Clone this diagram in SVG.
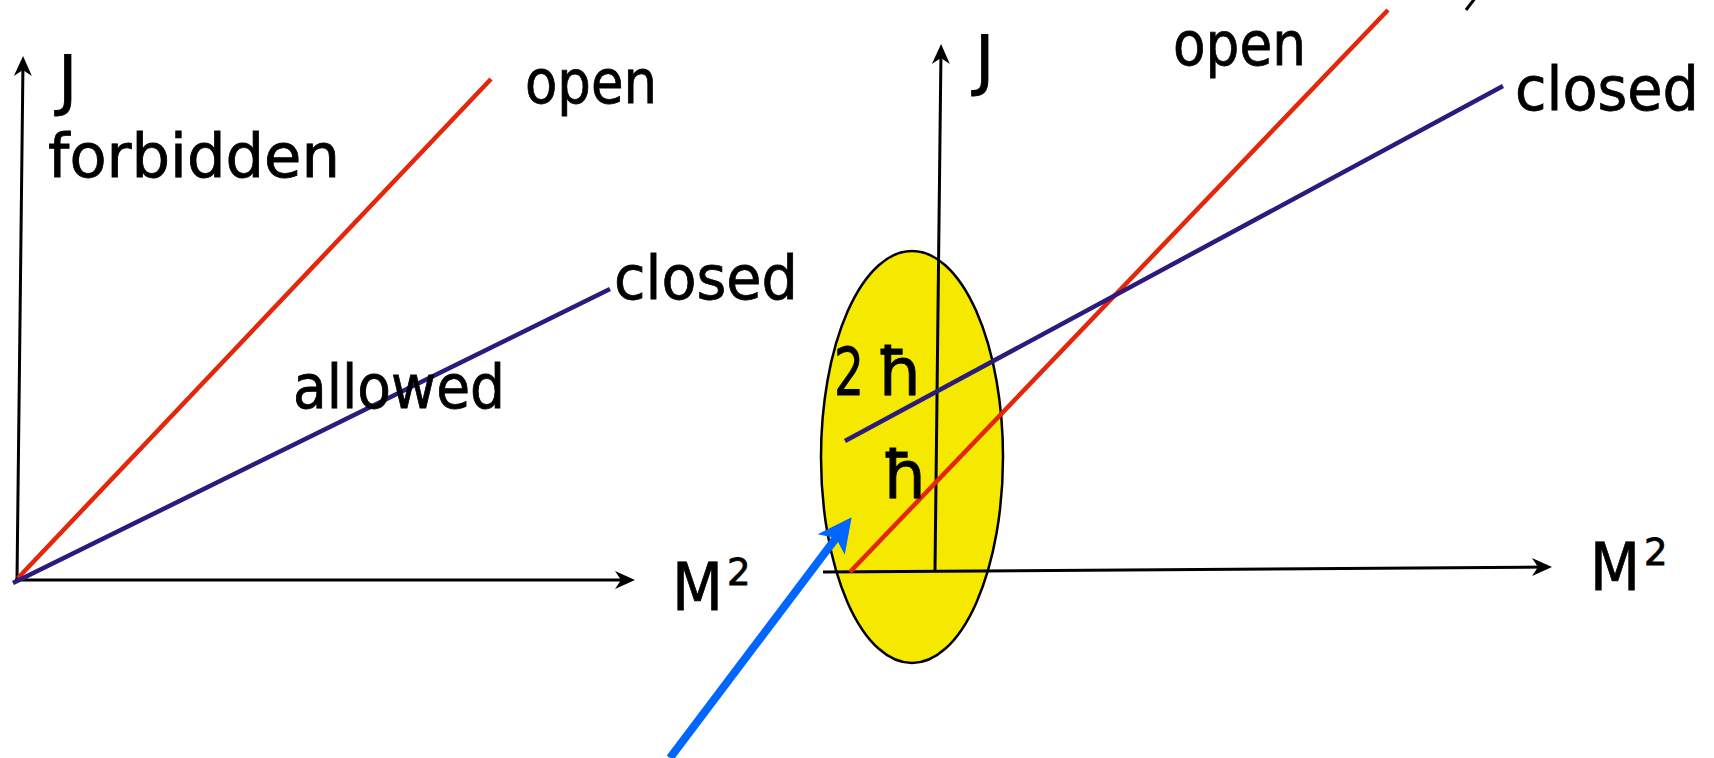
<svg xmlns="http://www.w3.org/2000/svg" width="1714" height="758" viewBox="0 0 1714 758">
<style>
text{font-family:'DejaVu Sans',sans-serif;fill:#000;stroke:#000;stroke-width:0.8}
.lbl{font-size:60px}
.big{font-size:66px}
.sup{font-size:37px}
.axis{stroke:#000;stroke-width:3;fill:none}
.red{stroke:#e4260b;stroke-width:4.5;fill:none}
.pur{stroke:#2c1a7c;stroke-width:4.5;fill:none}
</style>
<defs>
<marker id="ah" markerUnits="userSpaceOnUse" markerWidth="22" markerHeight="22" viewBox="0 0 22 22" refX="16" refY="11" orient="auto">
<path d="M22,11 L2,2 L8,11 L2,20 Z" fill="#000"/>
</marker>
<marker id="bh" markerUnits="userSpaceOnUse" markerWidth="40" markerHeight="36" viewBox="0 0 40 36" refX="10" refY="18" orient="auto">
<path d="M36,18 L2,1 L10,18 L2,35 Z" fill="#0066ff"/>
</marker>
</defs>
<g id="ellipse">
<ellipse cx="912" cy="457" rx="91" ry="206" fill="#f5e900" stroke="#000" stroke-width="2.5"/>
</g>
<g id="connectors">
<line class="axis" x1="17" y1="580" x2="23" y2="62" marker-end="url(#ah)"/>
<line class="axis" x1="15" y1="580" x2="629" y2="580" marker-end="url(#ah)"/>
<line class="red" x1="18" y1="578" x2="491" y2="79"/>
<line class="pur" x1="13" y1="583" x2="610" y2="289"/>
<line class="axis" x1="935" y1="570" x2="941" y2="50" marker-end="url(#ah)"/>
<line class="axis" x1="823" y1="572" x2="1546" y2="567" marker-end="url(#ah)"/>
<line class="red" x1="850" y1="572" x2="1388" y2="10"/>
<line class="pur" x1="845" y1="441" x2="1503" y2="86"/>
<line class="axis" x1="1466" y1="10" x2="1476" y2="-3"/>
<line x1="670" y1="758" x2="836" y2="538" stroke="#0066ff" stroke-width="8" marker-end="url(#bh)"/>
</g>
<g id="left-labels">
<text class="big" x="58" y="103">J</text>
<text class="lbl" x="48" y="177" textLength="292" lengthAdjust="spacingAndGlyphs">forbidden</text>
<text class="lbl" x="525" y="103" textLength="132" lengthAdjust="spacingAndGlyphs">open</text>
<text class="lbl" x="614" y="299" textLength="184" lengthAdjust="spacingAndGlyphs">closed</text>
<text class="lbl" x="293" y="408" textLength="212" lengthAdjust="spacingAndGlyphs">allowed</text>
<text class="big" x="672" y="610" textLength="51" lengthAdjust="spacingAndGlyphs">M</text>
<text class="sup" x="727" y="585">2</text>
</g>
<g id="right-labels">
<text class="big" x="975" y="83">J</text>
<text class="lbl" x="1173" y="65" textLength="133" lengthAdjust="spacingAndGlyphs">open</text>
<text class="lbl" x="1515" y="110" textLength="184" lengthAdjust="spacingAndGlyphs">closed</text>
<text class="big" x="1590" y="590" textLength="50" lengthAdjust="spacingAndGlyphs">M</text>
<text class="sup" x="1644" y="565">2</text>
</g>
<g id="hbar-labels">
<text class="big" x="834" y="395"><tspan textLength="30" lengthAdjust="spacingAndGlyphs">2</tspan><tspan x="877">ħ</tspan></text>
<text class="big" x="882" y="498">ħ</text>
</g>
</svg>
